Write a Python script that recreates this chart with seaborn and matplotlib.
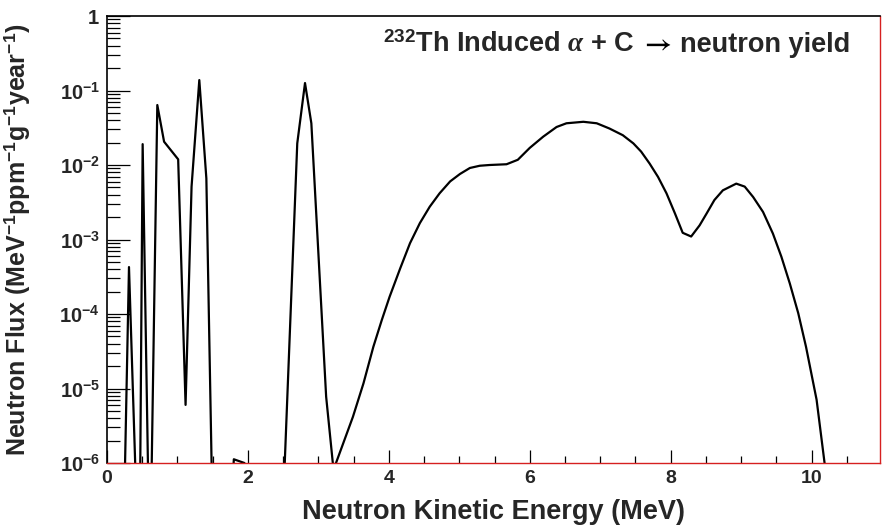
import numpy as np
import pandas as pd
import matplotlib
matplotlib.use("Agg")
import matplotlib.pyplot as plt
import seaborn as sns
from matplotlib.ticker import FixedLocator, LogLocator, NullFormatter, MultipleLocator

# Neutron kinetic energy (MeV) and flux (MeV^-1 ppm^-1 g^-1 year^-1)
energy = [0.25, 0.312, 0.41, 0.47, 0.506, 0.586, 0.63, 0.714, 0.81, 1.01, 1.115, 1.20, 1.31, 1.41, 1.49,
          1.78, 1.80, 1.95, 1.97, 2.51, 2.70, 2.81, 2.90, 3.11, 3.21,
          3.25, 3.49, 3.64, 3.78, 3.90, 4.01, 4.16, 4.30, 4.44, 4.58, 4.72, 4.87, 5.01, 5.15, 5.29,
          5.43, 5.67, 5.83, 6.00, 6.19, 6.38, 6.52, 6.76, 6.95, 7.13, 7.32, 7.47, 7.58, 7.70, 7.82,
          7.94, 8.06, 8.17, 8.29, 8.41, 8.51, 8.62, 8.74, 8.93, 9.05, 9.17, 9.31, 9.45, 9.57, 9.69,
          9.81, 9.92, 10.07, 10.19]
log_flux = [-6.3, -3.37, -6.3, -6.3, -1.72, -6.3, -6.3, -1.195, -1.687, -1.924, -5.22, -2.29, -0.86, -2.18, -6.3,
            -6.3, -5.95, -6.0, -6.3, -6.3, -1.71, -0.90, -1.44, -5.11, -6.05,
            -6.0, -5.38, -4.93, -4.44, -4.08, -3.77, -3.39, -3.05, -2.78, -2.56, -2.38, -2.22, -2.12, -2.04, -2.01,
            -2.00, -1.99, -1.93, -1.77, -1.62, -1.49, -1.44, -1.42, -1.44, -1.51, -1.60, -1.71, -1.82, -1.98, -2.16,
            -2.38, -2.65, -2.91, -2.96, -2.81, -2.65, -2.47, -2.34, -2.25, -2.29, -2.43, -2.63, -2.92, -3.23, -3.59,
            -3.99, -4.44, -5.15, -6.05]
flux = [10.0 ** v for v in log_flux]

x_ticks = [0, 2, 4, 6, 8, 10]
y_ticks = [1e-6, 1e-5, 1e-4, 1e-3, 1e-2, 1e-1, 1]
y_tick_labels = [r"$\mathbf{10^{-6}}$", r"$\mathbf{10^{-5}}$", r"$\mathbf{10^{-4}}$", r"$\mathbf{10^{-3}}$",
                 r"$\mathbf{10^{-2}}$", r"$\mathbf{10^{-1}}$", r"$\mathbf{1}$"]

title_left = r"$^{\mathbf{232}}$Th Induced $\alpha$ + C"
title_arrow = r"$\rightarrow$"
title_right = "neutron yield"

df = pd.DataFrame({"E": energy, "flux": flux})

sns.set_theme(style="white")
plt.rcParams["font.family"] = ["Liberation Sans", "DejaVu Sans"]
plt.rcParams["font.weight"] = "bold"
plt.rcParams["mathtext.fontset"] = "custom"
plt.rcParams["mathtext.rm"] = "Liberation Sans:bold"
plt.rcParams["mathtext.bf"] = "Liberation Sans:bold"
plt.rcParams["mathtext.it"] = "Liberation Serif:italic"
plt.rcParams["mathtext.sf"] = "Liberation Sans:bold"

W, H = 884, 526
fig = plt.figure(figsize=(W / 100, H / 100), dpi=100)
ax = fig.add_axes([107 / W, 1 - 463 / H, (880 - 107) / W, (463 - 16) / H])

sns.lineplot(data=df, x="E", y="flux", estimator=None, sort=False, color="black", linewidth=1.6, ax=ax)

ax.set_yscale("log")
ax.set_xlim(0, 10.97)
ax.set_ylim(1e-6, 1)

ax.xaxis.set_major_locator(FixedLocator(x_ticks))
ax.xaxis.set_minor_locator(MultipleLocator(0.5))
ax.set_xticklabels([str(t) for t in x_ticks])
ax.yaxis.set_major_locator(FixedLocator(y_ticks))
ax.set_yticklabels(y_tick_labels)
ax.yaxis.set_minor_locator(LogLocator(base=10, subs=np.arange(2, 10)))
ax.yaxis.set_minor_formatter(NullFormatter())

ax.tick_params(axis="x", which="major", direction="in", length=9.5, width=0.9, color="black",
               labelsize=14, pad=5, bottom=True, top=False)
ax.tick_params(axis="x", which="minor", direction="in", length=5, width=0.9, color="black", bottom=True, top=False)
ax.tick_params(axis="y", which="major", direction="in", length=16.5, width=0.9, color="black",
               labelsize=14.5, pad=5, left=True, right=False)
ax.tick_params(axis="y", which="minor", direction="in", length=9, width=0.9, color="black", left=True, right=False)
for lab in ax.get_xticklabels() + ax.get_yticklabels():
    lab.set_fontweight("bold")

for side in ["left", "top"]:
    ax.spines[side].set_color("black")
    ax.spines[side].set_linewidth(1.2)
for side in ["right", "bottom"]:
    ax.spines[side].set_color("#d62020")
    ax.spines[side].set_linewidth(1.0)
ax.spines["bottom"].set_zorder(5)

ax.set_xlabel("Neutron Kinetic Energy (MeV)", fontsize=19.5, fontweight="bold")
ax.xaxis.set_label_coords(0.5, -0.08)
ax.set_ylabel(r"Neutron Flux (MeV$^{\mathbf{-1}}$ppm$^{\mathbf{-1}}$g$^{\mathbf{-1}}$year$^{\mathbf{-1}}$)",
              fontsize=18, fontweight="bold")
ax.yaxis.set_label_coords(-0.097, 0.5)

# title pieces, right-aligned at x=850 px, baseline at y=52 px
fig.canvas.draw()
rend = fig.canvas.get_renderer()
yb = 1 - 52 / H
x_right = 850.0
t3 = fig.text(x_right / W, yb, title_right, ha="right", va="baseline", fontsize=19.5, fontweight="bold")
w3 = t3.get_window_extent(rend).width
x_arrow = x_right - w3 - 8
t2 = fig.text(x_arrow / W, yb + 1 / H, title_arrow, ha="right", va="baseline", fontsize=20,
              math_fontfamily="stix", color="black")
w2 = t2.get_window_extent(rend).width
x_left = x_arrow - w2 - 6
fig.text(x_left / W, yb, title_left, ha="right", va="baseline", fontsize=19.5, fontweight="bold")

fig.savefig("out.png", dpi=100, facecolor="white")
